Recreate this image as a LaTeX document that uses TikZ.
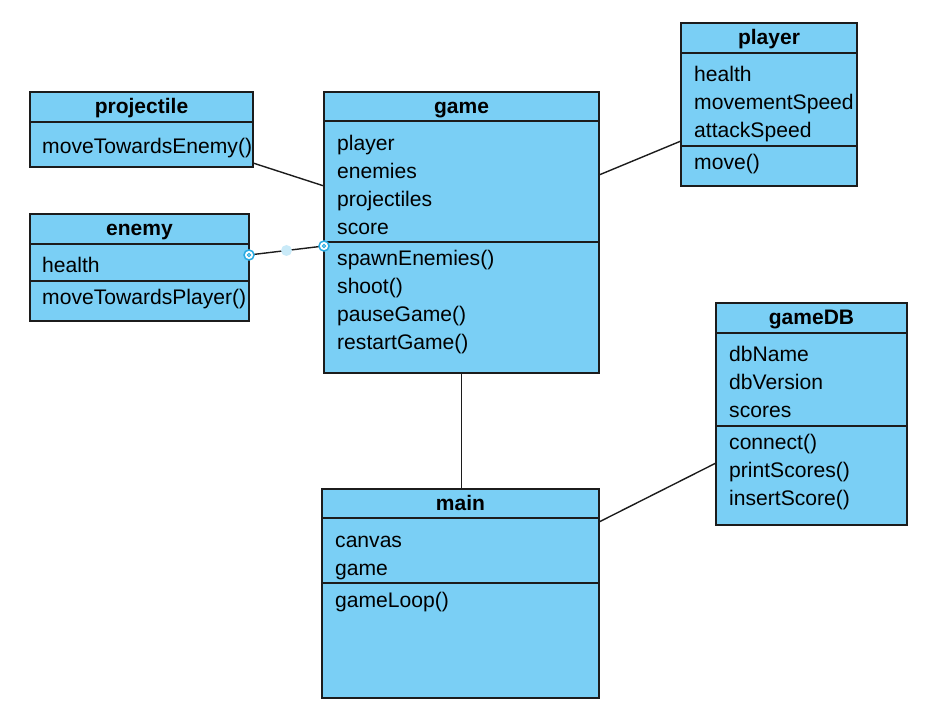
\documentclass[tikz,border=0pt]{standalone}
\usepackage{fontspec}
\setmainfont{Liberation Sans}
\usetikzlibrary{calc}
\definecolor{classblue}{RGB}{122,207,245}
\definecolor{edgegray}{RGB}{28,28,28}
\definecolor{handleblue}{RGB}{41,171,226}
\tikzset{
  classbox/.style={draw=edgegray, line width=1.6pt, fill=classblue, anchor=north west, inner sep=0pt, outer sep=0pt},
  divider/.style={draw=edgegray, line width=1.6pt},
  classname/.style={anchor=base, inner sep=0pt, font=\fontsize{21}{24}\selectfont\bfseries},
  member/.style={anchor=base west, inner sep=0pt, font=\fontsize{21.1}{24}\selectfont},
  assoc/.style={draw=edgegray, line width=1.4pt},
  handle/.style={draw=handleblue, fill=white, line width=1.5pt},
}
\begin{document}
\begin{tikzpicture}[x=1pt,y=-1pt]
\useasboundingbox (0,0) rectangle (938,727);
% class boxes
\node[classbox, minimum width=223pt, minimum height=75pt] (projectile) at (30,92) {};
\node[classbox, minimum width=219pt, minimum height=107pt] (enemy) at (30,214) {};
\node[classbox, minimum width=275pt, minimum height=281pt] (game) at (324,92) {};
\node[classbox, minimum width=176pt, minimum height=163pt] (player) at (681,23) {};
\node[classbox, minimum width=191pt, minimum height=222pt] (gameDB) at (716,303) {};
\node[classbox, minimum width=277pt, minimum height=209pt] (main) at (322,489) {};
% compartments
\draw[divider] (projectile.west |- 0,122) -- (projectile.east |- 0,122);
\draw[divider] (enemy.west |- 0,244) -- (enemy.east |- 0,244);
\draw[divider] (enemy.west |- 0,281) -- (enemy.east |- 0,281);
\draw[divider] (game.west |- 0,121) -- (game.east |- 0,121);
\draw[divider] (game.west |- 0,242) -- (game.east |- 0,242);
\draw[divider] (player.west |- 0,53) -- (player.east |- 0,53);
\draw[divider] (player.west |- 0,146) -- (player.east |- 0,146);
\draw[divider] (gameDB.west |- 0,333) -- (gameDB.east |- 0,333);
\draw[divider] (gameDB.west |- 0,426) -- (gameDB.east |- 0,426);
\draw[divider] (main.west |- 0,518) -- (main.east |- 0,518);
\draw[divider] (main.west |- 0,583) -- (main.east |- 0,583);
% class names
\node[classname] (projectile-name) at (projectile.north |- 0,114) {projectile};
\node[classname] (enemy-name) at (enemy.north |- 0,236) {enemy};
\node[classname] (game-name) at (game.north |- 0,113.5) {game};
\node[classname] (player-name) at (player.north |- 0,45) {player};
\node[classname] (gameDB-name) at (gameDB.north |- 0,325) {gameDB};
\node[classname] (main-name) at (main.north |- 0,510.5) {main};
% members
\node[member] (projectile-op1) at (42,153.5) {moveTowardsEnemy()};
\node[member] (enemy-attr1) at (42,272.5) {health};
\node[member] (enemy-op1) at (42,304.5) {moveTowardsPlayer()};
\foreach \t [count=\i] in {player,enemies,projectiles,score}
  \node[member] (game-attr\i) at (337,{150.5+28*(\i-1)}) {\t};
\foreach \t [count=\i] in {spawnEnemies(),shoot(),pauseGame(),restartGame()}
  \node[member] (game-op\i) at (337,{265.5+28*(\i-1)}) {\t};
\foreach \t [count=\i] in {health,movementSpeed,attackSpeed}
  \node[member] (player-attr\i) at (694,{81.5+28*(\i-1)}) {\t};
\node[member] (player-op1) at (694,169.5) {move()};
\foreach \t [count=\i] in {dbName,dbVersion,scores}
  \node[member] (gameDB-attr\i) at (729,{361.5+28*(\i-1)}) {\t};
\foreach \t [count=\i] in {connect(),printScores(),insertScore()}
  \node[member] (gameDB-op\i) at (729,{449.5+28*(\i-1)}) {\t};
\node[member] (main-attr1) at (335,547.5) {canvas};
\node[member] (main-attr2) at (335,575.5) {game};
\node[member] (main-op1) at (335,607.5) {gameLoop()};
% associations
\draw[assoc] (projectile.east |- 0,163) -- (game.west |- 0,186);
\draw[assoc] (enemy.east |- 0,255) -- (game.west |- 0,246);
\draw[assoc] (game.east |- 0,175) -- (player.west |- 0,141);
\draw[assoc] (game.south) -- (game.south |- main.north);
\draw[assoc] (main.east |- 0,522) -- (gameDB.west |- 0,463);
% selection handles
\fill[handleblue!25] ($(enemy.east |- 0,255)!0.5!(game.west |- 0,246)$) circle (5.5);
\draw[handle] (enemy.east |- 0,255) circle (5);
\draw[handleblue, line width=1pt] (enemy.east |- 0,255) circle (1.7);
\draw[handle] (game.west |- 0,246) circle (5);
\draw[handleblue, line width=1pt] (game.west |- 0,246) circle (1.7);
\end{tikzpicture}
\end{document}
